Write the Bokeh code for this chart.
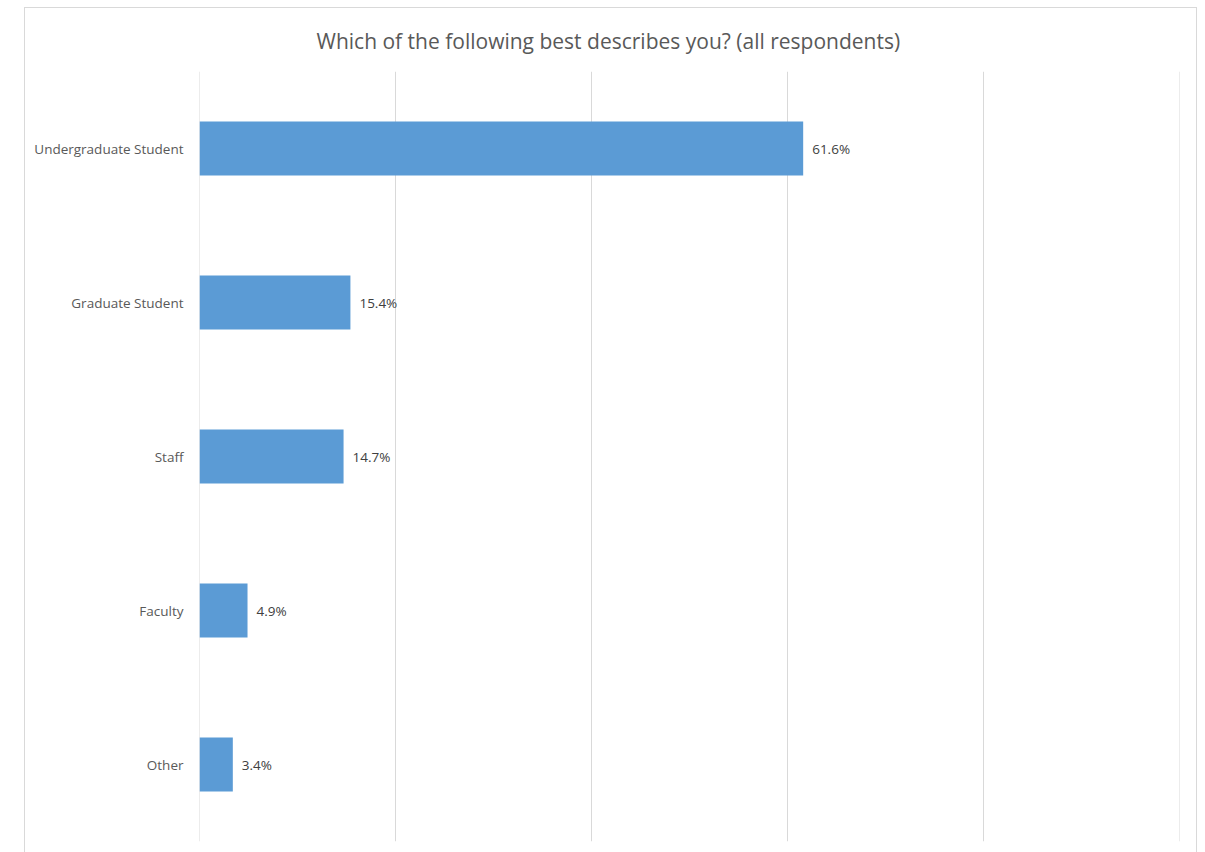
from bokeh.plotting import figure
from bokeh.models import FactorRange, FixedTicker, ColumnDataSource, Title, Span
from bokeh.core.properties import value
from bokeh.embed import file_html
from bokeh.resources import INLINE

categories = ["Undergraduate Student", "Graduate Student", "Staff", "Faculty", "Other"]
percents = [61.6, 15.4, 14.7, 4.9, 3.4]
labels = ["61.6%", "15.4%", "14.7%", "4.9%", "3.4%"]
grid_ticks = [0, 20, 40, 60, 80, 100]

src = ColumnDataSource(dict(cat=categories, val=percents, lab=labels))

p = figure(
    width=1173, height=845,
    y_range=FactorRange(factors=list(reversed(categories))),
    x_range=(0, 100),
    output_backend="svg", toolbar_location=None,
    min_border_left=174, min_border_right=19, min_border_top=63, min_border_bottom=12,
)
p.styles = {"border": "1px solid #d9d9d9", "border-bottom": "none",
            "margin-left": "24px", "margin-top": "7px", "box-sizing": "border-box"}
p.outline_line_color = None
p.background_fill_color = "white"
p.border_fill_color = "white"

t = Title(text="Which of the following best describes you? (all respondents)",
          align="left", text_font="Open Sans", text_font_size="21px",
          text_color="#595959", text_font_style="normal", offset=117,
          standoff=30, vertical_align="top")
p.add_layout(t, "above")

for g in (grid_ticks[0], grid_ticks[-1]):
    p.add_layout(Span(location=g, dimension="height", line_color="#d9d9d9",
                      line_width=1, level="underlay"))

p.hbar(y="cat", right="val", left=0, height=0.35, source=src,
       fill_color="#5B9BD5", line_color=None)
p.text(x="val", y="cat", text="lab", source=src, x_offset=9,
       text_baseline="middle", text_align="left",
       text_font=value("Open Sans"), text_font_size="13.5px", text_color="#404040")

p.xaxis.visible = False
p.xgrid.ticker = FixedTicker(ticks=grid_ticks)
p.xaxis.ticker = FixedTicker(ticks=grid_ticks)
p.xgrid.grid_line_color = "#d9d9d9"
p.xgrid.grid_line_width = 1
p.ygrid.grid_line_color = None

ya = p.yaxis[0]
ya.axis_line_color = None
ya.major_tick_line_color = None
ya.minor_tick_line_color = None
ya.major_tick_out = 0
ya.major_tick_in = 0
ya.major_label_standoff = 16
ya.major_label_text_font = "Open Sans"
ya.major_label_text_font_size = "13.5px"
ya.major_label_text_color = "#595959"

open("out.html", "w").write(file_html(p, INLINE))
